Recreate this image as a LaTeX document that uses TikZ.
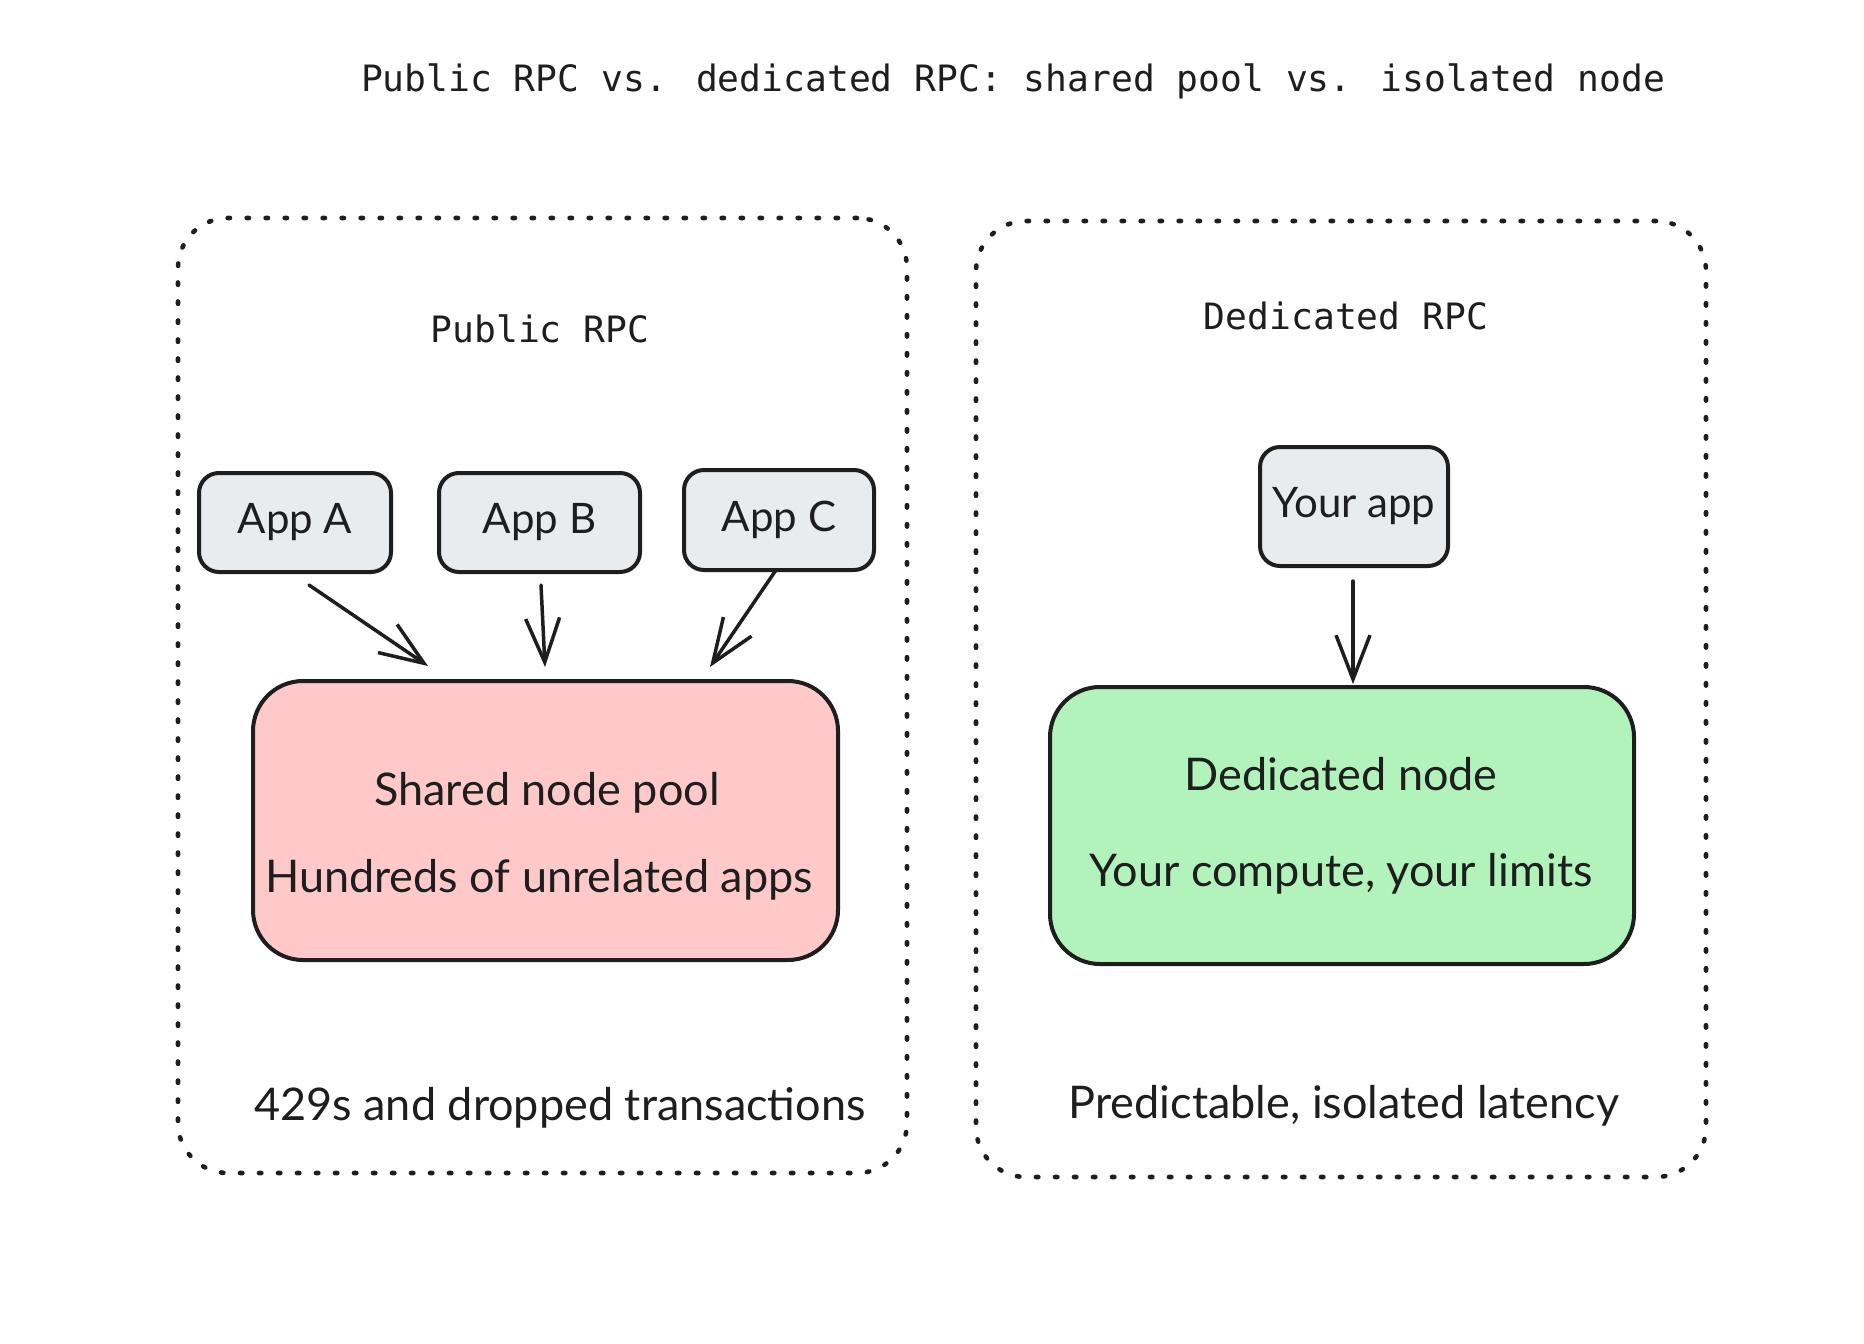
\documentclass[tikz,border=0pt]{standalone}
\usepackage{fontspec}
\setmainfont{Lato}
\newfontfamily\monofont{DejaVu Sans Mono}
\usetikzlibrary{arrows.meta,calc}
\definecolor{ink}{HTML}{1E1E1E}
\definecolor{appfill}{HTML}{E9ECEF}
\definecolor{poolfill}{HTML}{FFC9C9}
\definecolor{dedfill}{HTML}{B2F2BB}
\tikzset{
  container/.style={draw=ink, line width=2.3pt, dash pattern=on 1.2pt off 8.3pt, line cap=round, rounded corners=25pt, inner sep=0pt},
  appbox/.style={draw=ink, fill=appfill, line width=2pt, rounded corners=10pt, inner sep=0pt, font=\fontsize{21}{24}\selectfont, text=ink},
  bigbox/.style={draw=ink, line width=2pt, rounded corners=25pt, inner sep=0pt},
  hand/.style={font=\fontsize{22.5}{26}\selectfont, text=ink, inner sep=0pt},
  mono/.style={font=\monofont\fontsize{18.15}{22}\selectfont, text=ink, inner sep=0pt},
  arr/.style={draw=ink, line width=1.75pt, line cap=round, line join=round, -{Straight Barb[length=22pt,width=17pt,line width=1.75pt]}},
}
\begin{document}
\begin{tikzpicture}[x=0.5pt,y=-0.5pt]
\useasboundingbox[fill=white] (0,0) rectangle (1864,1344);
% title
\node[mono] (title) at (1013,81) {Public RPC vs. dedicated RPC: shared pool vs. isolated node};
% containers
\node[container, minimum width=364.5pt, minimum height=477.5pt] (left) at (542.5,695.5) {};
\node[container, minimum width=365pt, minimum height=478pt] (right) at (1341,699) {};
\node[mono] (publ) at (540,329) {Public RPC};
\node[mono] (dedl) at (1346,316) {Dedicated RPC};
% apps
\node[appbox, minimum width=96pt, minimum height=49.5pt] (appA) at (295,522.5) {App A};
\node[appbox, minimum width=100.5pt, minimum height=49.5pt] (appB) at (539.5,522.5) {App B};
\node[appbox, minimum width=95pt, minimum height=50pt] (appC) at (779,520) {App C};
\node[appbox, minimum width=94pt, minimum height=59.5pt] (yourapp) at (1354,506.5) {Your app};
% big boxes
\node[bigbox, fill=poolfill, minimum width=292.5pt, minimum height=139.5pt] (pool) at (545.5,820.5) {};
\node[bigbox, fill=dedfill, minimum width=292pt, minimum height=138.5pt] (ded) at (1342,825.5) {};
\node[hand] (pool1) at (547,793) {Shared node pool};
\node[hand] (pool2) at (539,880) {Hundreds of unrelated apps};
\node[hand] (ded1) at (1341,774) {Dedicated node};
\node[hand] (ded2) at (1341,874) {Your compute, your limits};
% footers
\node[hand] (leftnote) at (560,1108) {429s and dropped transactions};
\node[hand] (rightnote) at (1344,1106) {Predictable, isolated latency};
% arrows
\draw[arr] ($(appA.south)+(14,11)$) -- ($(pool.north)+(-117.5,-13)$);
\draw[arr] ($(appB.south)+(1.5,11)$) -- ($(pool.north)+(-0.5,-12)$);
\draw[arr] ($(appC.south)+(-3,-2)$) -- ($(pool.north)+(164.5,-12)$);
\draw[arr] ($(yourapp.south)+(-1,13)$) -- ($(ded.north)+(11,-1)$);
\end{tikzpicture}
\end{document}
